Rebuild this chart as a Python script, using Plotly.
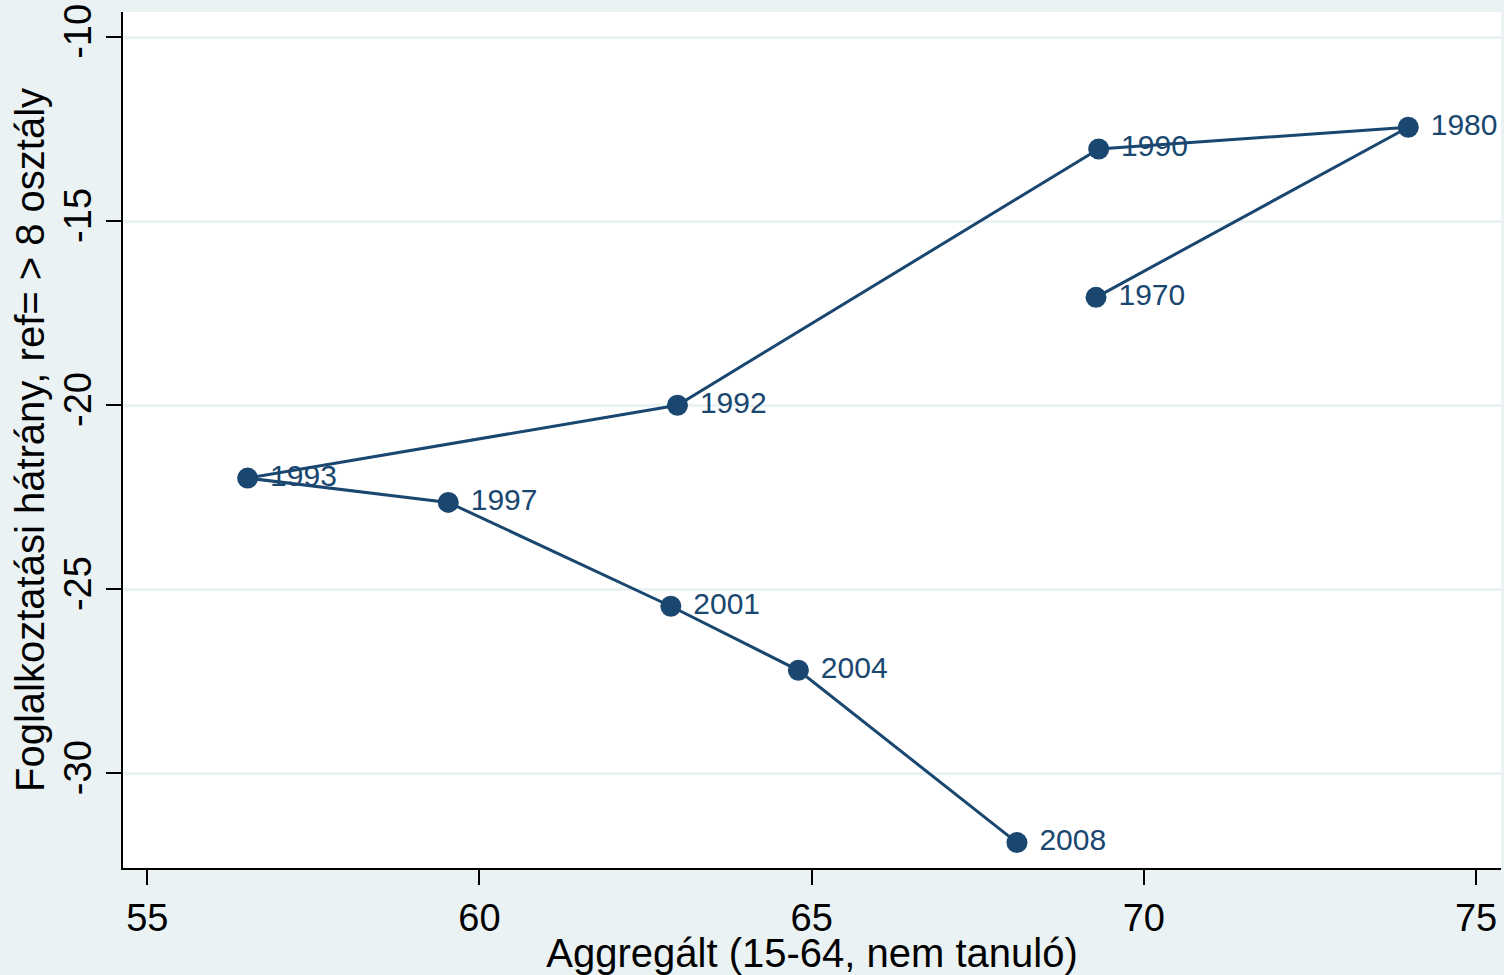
import plotly.graph_objects as go

years = ["1970", "1980", "1990", "1992", "1993", "1997", "2001", "2004", "2008"]
aggregate = [69.28, 73.98, 69.32, 62.98, 56.51, 59.53, 62.88, 64.80, 68.09]
gap = [-17.07, -12.45, -13.04, -20.00, -21.98, -22.64, -25.46, -27.20, -31.88]

x_ticks = [55, 60, 65, 70, 75]
y_ticks = [-10, -15, -20, -25, -30]

navy = "#1a476f"
bg = "#eaf2f3"
font = "Liberation Sans, Arial, sans-serif"

fig = go.Figure()
fig.add_trace(go.Scatter(
    x=aggregate, y=gap, text=years,
    mode="lines+markers+text",
    line=dict(color=navy, width=3),
    marker=dict(color=navy, size=21),
    textposition="middle right",
    texttemplate=" %{text}",
    textfont=dict(family=font, size=30, color=navy),
    cliponaxis=False,
    showlegend=False,
))

fig.update_layout(
    width=1504, height=975,
    margin=dict(l=123, r=3, t=12, b=107),
    paper_bgcolor=bg,
    plot_bgcolor="white",
    font=dict(family=font, color="black"),
    xaxis=dict(
        range=[54.634, 75.376],
        tickvals=x_ticks,
        ticktext=[str(v) for v in x_ticks],
        ticks="outside", ticklen=15, tickwidth=1.5, tickcolor="black",
        tickfont=dict(size=38),
        ticklabeloverflow="allow",
        showgrid=False, zeroline=False,
        showline=True, linecolor="black", linewidth=2,
        title=dict(text="Aggregált (15-64, nem tanuló)", font=dict(size=40), standoff=0),
        automargin=False,
    ),
    yaxis=dict(
        range=[-32.57, -9.32],
        tickvals=y_ticks,
        ticktext=[str(v) for v in y_ticks],
        tickangle=-90,
        ticks="outside", ticklen=15, tickwidth=1.5, tickcolor="black",
        tickfont=dict(size=38),
        ticklabeloverflow="allow",
        showgrid=True, gridcolor=bg, gridwidth=3,
        zeroline=False,
        showline=True, linecolor="black", linewidth=2,
        title=dict(text="Foglalkoztatási hátrány, ref= > 8 osztály", font=dict(size=40), standoff=0),
        automargin=False,
    ),
)

fig.write_html(
    "out.html",
    config={"displayModeBar": False},
    post_script="document.body.style.margin='0';document.body.style.background='#eaf2f3';",
)
